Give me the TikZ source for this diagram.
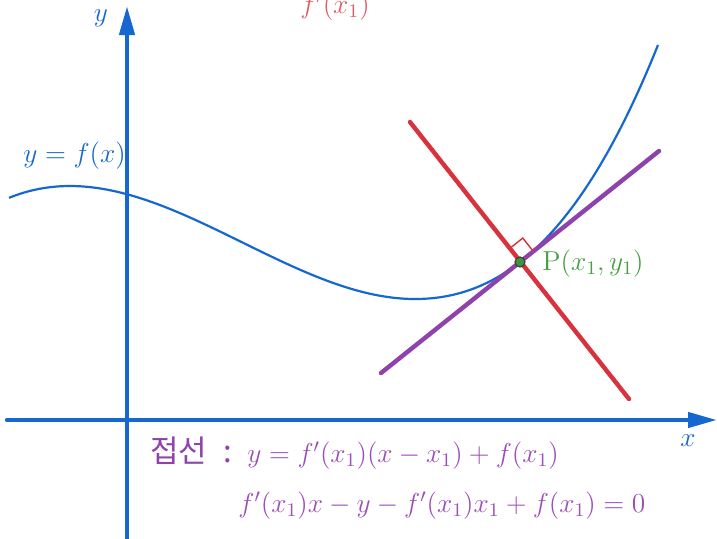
\RequirePackage{fix-cm}
\documentclass[tikz,border=0pt]{standalone}
\usepackage{amsmath}
\usepackage{fontspec}
\newfontfamily\kofont{Noto Sans CJK KR}
\usetikzlibrary{arrows.meta,calc}
\definecolor{axblue}{RGB}{22,104,208}
\definecolor{nred}{RGB}{216,50,60}
\definecolor{tpurple}{RGB}{142,66,172}
\definecolor{txpurple}{RGB}{156,78,182}
\definecolor{pgreen}{RGB}{70,160,70}
\definecolor{dgreen}{RGB}{60,150,60}

\begin{document}
\begin{tikzpicture}[x=0.5pt, y=-0.5pt, font=\fontsize{13.7}{16}\selectfont,
  declare function={fa(\x)=186+113*(3*((\x-70)/345)*((\x-70)/345)-2*((\x-70)/345)*((\x-70)/345)*((\x-70)/345));
    fb(\x)=299-26.37*((\x-415)/100)^2-6.85*((\x-415)/100)^3;},
  axis/.style={line width=2.2pt, draw=axblue, line cap=round, -{Triangle[length=14.5pt, width=7.5pt]}},
  curve/.style={line width=1.1pt, draw=axblue},
  lne/.style={line width=2.2pt, line cap=round},
  rt/.style={draw=nred, line width=0.7pt},
  dot/.style={circle, fill=dgreen, draw=black!75, line width=0.6pt, inner sep=0pt, minimum size=5pt},
  lbl/.style={inner sep=0pt}]
  \useasboundingbox (0,0) rectangle (717,538);
  \draw[curve] plot[domain=9:415, samples=80] (\x,{fa(\x)}) -- plot[domain=415:658, samples=60] (\x,{fb(\x)});
  \coordinate (yb) at (127,548); \coordinate (yt) at (127,6);
  \coordinate (xl) at (7,420); \coordinate (xr) at (717,420);
  \draw[axis] (yb) -- (yt);
  \draw[axis] (xl) -- (xr);
  \coordinate (P) at (520,262);
  \coordinate (tanA) at (381,373); \coordinate (tanB) at (659,151);
  \coordinate (norA) at (410,122); \coordinate (norB) at (629,399);
  \draw[lne, nred] (norA) -- (norB);
  \draw[lne, tpurple] (tanA) -- (tanB);
  \coordinate (ra) at ($(P)!8.5pt!(tanB)$);
  \coordinate (rb) at ($(P)!8.5pt!(norA)$);
  \coordinate (rc) at ($(ra)+(rb)-(P)$);
  \draw[rt] (ra) -- (rc) -- (rb);
  \node[dot] (pt) at (P) {};
  \node[lbl, anchor=base west, text=pgreen] (lp) at (542,270) {$\mathrm{P}(x_1, y_1)$};
  \node[lbl, anchor=base west, text=axblue] (lf) at (23,162) {$y = f(x)$};
  \node[lbl, text=axblue] (ly) at (101,18) {$y$};
  \node[lbl, text=axblue] (lx) at (688,441) {$x$};
  \node[lbl, anchor=base, text=nred!80] (ls) at (335,13) {$f'(x_1)$};
  \node[lbl, anchor=base west, text=tpurple] (lk) at (150,462) {\kofont\fontsize{15.5}{18}\selectfont 접선\hspace{8pt}:};
  \node[lbl, anchor=base west, text=txpurple] (le1) at (247,462) {$y = f'(x_1)(x - x_1) + f(x_1)$};
  \node[lbl, anchor=base west, text=txpurple] (le2) at (238,512) {$f'(x_1)x - y - f'(x_1)x_1 + f(x_1) = 0$};
\end{tikzpicture}
\end{document}
